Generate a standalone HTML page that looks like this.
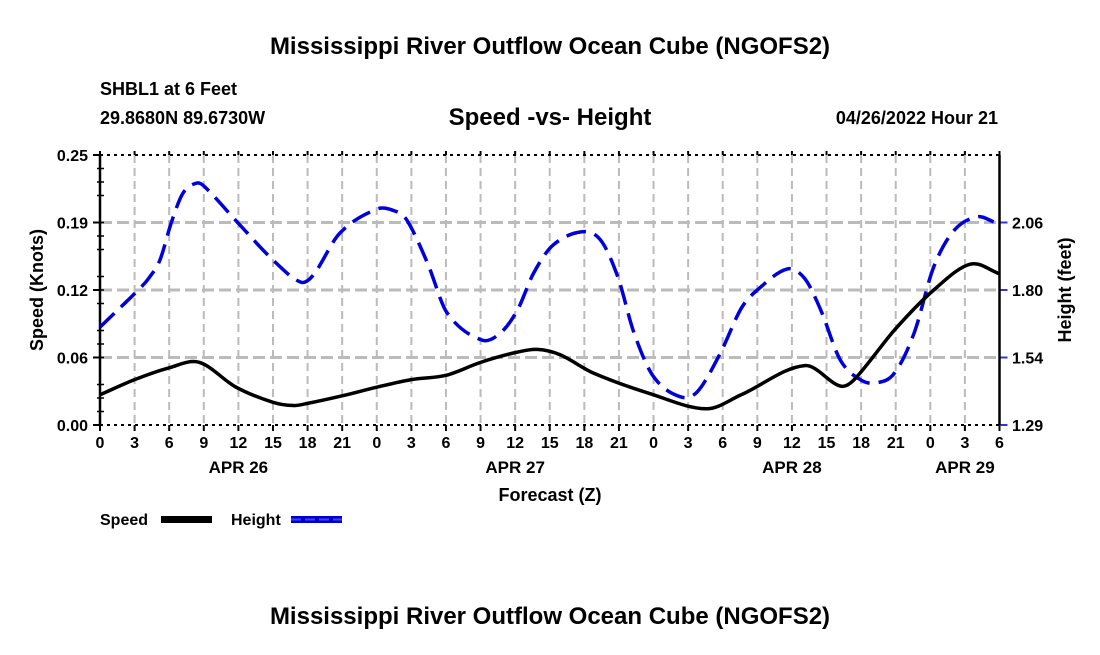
<!DOCTYPE html>
<html><head><meta charset="utf-8"><style>
html,body{margin:0;padding:0;background:#fff;}
svg text{font-family:"Liberation Sans",Arial,sans-serif;font-weight:bold;fill:#000;}
</style></head><body>
<svg id="chart" width="1100" height="650" viewBox="0 0 1100 650" xmlns="http://www.w3.org/2000/svg">
<text x="550" y="54" font-size="24" text-anchor="middle">Mississippi River Outflow Ocean Cube (NGOFS2)</text>
<text x="100" y="95" font-size="18">SHBL1 at 6 Feet</text>
<text x="100" y="124" font-size="18">29.8680N  89.6730W</text>
<text x="550" y="125" font-size="24" text-anchor="middle">Speed -vs- Height</text>
<text x="998" y="124" font-size="18" text-anchor="end">04/26/2022 Hour 21</text>
<g id="grid"></g>
<g id="axes"></g>
<g id="series"></g>
<text x="550" y="501" font-size="18" text-anchor="middle">Forecast (Z)</text>
<text transform="translate(43,290) rotate(-90)" font-size="18" text-anchor="middle">Speed (Knots)</text>
<text transform="translate(1071,290) rotate(-90)" font-size="18" text-anchor="middle">Height (feet)</text>
<g>
<text x="100" y="525" font-size="16">Speed</text>
<rect x="161" y="516" width="51" height="7" fill="#000"/>
</g>
<g>
<text x="231" y="525" font-size="16">Height</text>
<rect x="291" y="516" width="51" height="7" fill="#0000cc"/>
<line x1="291" y1="519.5" x2="342" y2="519.5" stroke="#4040ff" stroke-width="2" stroke-dasharray="10,4"/>
</g>
<text x="550" y="624" font-size="24" text-anchor="middle">Mississippi River Outflow Ocean Cube (NGOFS2)</text>
</svg>
<script>
const hourTicks=[0,3,6,9,12,15,18,21,0,3,6,9,12,15,18,21,0,3,6,9,12,15,18,21,0,3,6];
const dayLabels=["APR 26","APR 27","APR 28","APR 29"];
const dayLabelHours=[12,36,60,75];
const leftTicks=["0.00","0.06","0.12","0.19","0.25"];
const rightTicks=["1.29","1.54","1.80","2.06"];
const speedHours=[0,3,6,8.6,11.8,15,16.8,18,21,24,27,30,33,36,37.9,39.9,42.8,47.7,52.6,55.6,61.1,64.2,65.4,68.9,72.3,75.5,78];
const speedValues=[0.028,0.042,0.053,0.058,0.035,0.021,0.018,0.020,0.027,0.035,0.042,0.046,0.058,0.067,0.070,0.065,0.048,0.029,0.015,0.028,0.055,0.036,0.042,0.088,0.125,0.149,0.140];
const heightHours=[0,3.5,4.3,5.2,6.2,7.2,8.4,9.1,11.9,15,17.4,18.5,20.8,24,25.5,26.6,28.4,30.1,33.1,34.7,36.2,37.6,39.3,41.8,43.4,44.9,46.3,48,50.3,51.8,53.8,55.6,57,59.6,61.1,62.5,64.2,66,67.4,68.9,70.6,72.3,74.1,76.1,77.5];
const heightValues=[1.659,1.808,1.849,1.914,2.058,2.168,2.206,2.191,2.058,1.914,1.830,1.857,2.016,2.107,2.101,2.066,1.902,1.713,1.610,1.636,1.724,1.864,1.971,2.021,1.990,1.850,1.638,1.471,1.395,1.414,1.561,1.730,1.800,1.880,1.844,1.724,1.534,1.458,1.448,1.485,1.637,1.888,2.028,2.078,2.059];

const NS="http://www.w3.org/2000/svg";
const X0=100,X1=999.5,Y0=425,Y1=155;
const xS=h=>X0+(X1-X0)*h/78;
const yL=v=>Y0-(Y0-Y1)*v/0.25;
const HMIN=1.2875,HMAX=2.3125;
const yR=v=>Y0-(Y0-Y1)*(v-HMIN)/(HMAX-HMIN);
function mk(tag,attrs,parent){const e=document.createElementNS(NS,tag);for(const k in attrs)e.setAttribute(k,attrs[k]);parent.appendChild(e);return e;}
const grid=document.getElementById('grid'),axes=document.getElementById('axes'),series=document.getElementById('series');
hourTicks.forEach((t,i)=>{const x=xS(i*3);
 if(i>0&&i<hourTicks.length-1){const l=mk('line',{x1:x,y1:Y1,x2:x,y2:Y0,stroke:'#bbb','stroke-width':2,'stroke-dasharray':'8,5'},grid);
 
 }
 const tk=mk('line',{x1:x,y1:Y0,x2:x,y2:Y0+6,stroke:'#000','stroke-width':2},axes);
 
 
 const tl=mk('line',{x1:x,y1:Y1,x2:x,y2:Y1-4,stroke:'#000','stroke-width':2},axes);
 
 
 const tx=mk('text',{x:x,y:448,'font-size':16,'text-anchor':'middle'},axes);tx.textContent=t;
 
 
});
dayLabels.forEach((d,i)=>{const tx=mk('text',{x:xS(dayLabelHours[i]),y:473,'font-size':17,'text-anchor':'middle'},axes);tx.textContent=d;
 
 });
leftTicks.forEach((t,i)=>{const y=yL(i*0.0625);
 if(i>0&&i<4){const l=mk('line',{x1:X0,y1:y,x2:X1,y2:y,stroke:'#bbb','stroke-width':3,'stroke-dasharray':'12,5'},grid);
 
 }
 const tk=mk('line',{x1:X0-7,y1:y,x2:X0,y2:y,stroke:'#000','stroke-width':2},axes);
 
 
 const tx=mk('text',{x:88,y:y+6,'font-size':16,'text-anchor':'end'},axes);tx.textContent=t;
 
 
});
for(let i=1;i<20;i++){if(i%4===0)continue;const y=yL(i*0.0125);
 const m=mk('line',{x1:X0-3,y1:y,x2:X0+4,y2:y,stroke:'#000','stroke-width':1.5},axes);
 
 }
rightTicks.forEach((t,i)=>{const y=yL(i*0.0625);
 const tk=mk('line',{x1:X1,y1:y,x2:X1+8,y2:y,stroke:'#3333dd','stroke-width':2},axes);
 
 
 const tx=mk('text',{x:1012,y:y+6,'font-size':16},axes);tx.textContent=t;
 
 
});
let f=mk('line',{x1:X0,y1:Y1,x2:X1,y2:Y1,stroke:'#000','stroke-width':2,'stroke-dasharray':'3,4'},axes);


f=mk('line',{x1:X0,y1:Y0,x2:X1,y2:Y0,stroke:'#000','stroke-width':2,'stroke-dasharray':'3,4'},axes);


f=mk('line',{x1:X0,y1:Y1,x2:X0,y2:Y0,stroke:'#000','stroke-width':2.5},axes);


f=mk('line',{x1:X1,y1:Y1,x2:X1,y2:Y0,stroke:'#000','stroke-width':2.5},axes);


// function-style cardinal spline (slopes in x-y space)
function smooth(pts){const n=pts.length,m=[];
 for(let i=0;i<n;i++){const a=pts[Math.max(0,i-1)],b=pts[Math.min(n-1,i+1)];m.push((b[1]-a[1])/(b[0]-a[0]));}
 let d=`M${pts[0][0]},${pts[0][1]}`;
 for(let i=0;i<n-1;i++){const p1=pts[i],p2=pts[i+1],dx=(p2[0]-p1[0])/3;
 d+=` C${p1[0]+dx},${p1[1]+m[i]*dx} ${p2[0]-dx},${p2[1]-m[i+1]*dx} ${p2[0]},${p2[1]}`;}return d;}
const hp=heightHours.map((h,i)=>[xS(h),yR(heightValues[i])]);
const hl=mk('path',{d:smooth(hp),fill:'none',stroke:'#0000dd','stroke-width':3.5,'stroke-dasharray':'20,9'},series);


const sp=speedHours.map((h,i)=>[xS(h),yL(speedValues[i])]);
const sl=mk('path',{d:smooth(sp),fill:'none',stroke:'#000','stroke-width':3.5},series);


</script>
</body></html>
